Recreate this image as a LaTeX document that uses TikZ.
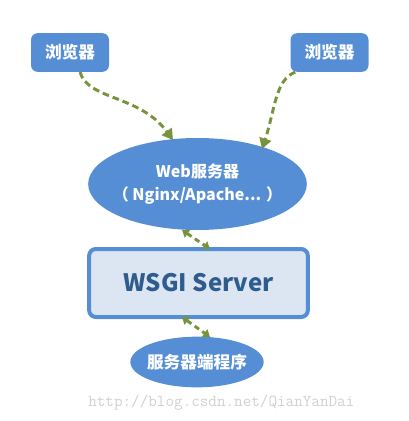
\documentclass[tikz,border=0pt]{standalone}
\usepackage{fontspec}
\setmainfont{Liberation Sans}
\newfontfamily\cjk{Noto Sans CJK SC}
\usetikzlibrary{arrows.meta,shapes.geometric}
\definecolor{boxblue}{HTML}{558ED5}
\definecolor{lightfill}{HTML}{DCE6F2}
\definecolor{darktext}{HTML}{2F5C8F}
\definecolor{arrgreen}{HTML}{77933C}
\definecolor{wmgray}{HTML}{D0D0D0}
\begin{document}
\begin{tikzpicture}[x=0.75pt,y=-0.75pt,
  browser/.style={draw=none,fill=boxblue,rounded corners=5pt,minimum width=58.5pt,minimum height=29pt,inner sep=0pt,text=white,font=\cjk\bfseries\fontsize{12.5}{14}\selectfont},
  ell/.style={ellipse,draw=none,fill=boxblue,inner sep=0pt},
  elltext/.style={text=white,align=center,inner sep=0pt},
  wsgibox/.style={draw=boxblue,line width=3pt,fill=lightfill,rounded corners=5pt,minimum width=164pt,minimum height=51pt,inner sep=0pt,text=darktext,font=\cjk\bfseries\fontsize{18}{22}\selectfont},
  conn/.style={draw=arrgreen,line width=2.2pt,dash pattern=on 5pt off 3pt,-{Triangle[length=8pt,width=9pt]}},
  biconn/.style={draw=arrgreen,line width=2.2pt,dash pattern=on 4pt off 3pt,{Triangle[length=5pt,width=7pt]}-{Triangle[length=5pt,width=7pt]}}
]
\useasboundingbox (0,0) rectangle (409,421);
\node[browser] (b1) at (70,52.5) {浏览器};
\node[browser] (b2) at (329.5,52.5) {浏览器};
\node[ell,minimum width=164pt,minimum height=69pt] (web) at (197.5,184) {};
\node[elltext,font=\cjk\bfseries\fontsize{12}{17}\selectfont] (webtext) at (web.center) {Web服务器\\（ Nginx/Apache... ）};
\node[wsgibox] (wsgi) at (198.5,283) {WSGI Server};
\node[ell,minimum width=100pt,minimum height=38pt] (app) at (197,362) {};
\node[elltext,font=\cjk\bfseries\fontsize{12.5}{14}\selectfont] (apptext) at (app.center) {服务器端程序};
\coordinate (w1) at (173,140);
\coordinate (w2) at (262,149);
\draw[conn] (b1.south) ++(10,0) .. controls (88,100) and (140,95) .. (w1);
\draw[conn] (b2.south west) ++(5,0) .. controls (275,80) and (275,110) .. (w2);
\coordinate (a1) at (182,230);
\coordinate (a2) at (210,249);
\coordinate (c1) at (182,317);
\coordinate (c2) at (210,337);
\draw[biconn] (a1) -- (a2);
\draw[biconn] (c1) -- (c2);
\node[text=wmgray,font=\ttfamily\fontsize{12.5}{14}\selectfont,anchor=west,inner sep=0pt] (wm) at (88,403) {http://blog.csdn.net/QianYanDai};
\end{tikzpicture}
\end{document}
